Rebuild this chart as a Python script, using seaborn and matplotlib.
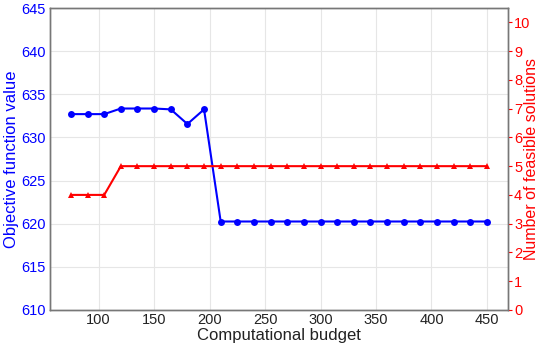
import numpy as np
import pandas as pd
import matplotlib
matplotlib.use("Agg")
import matplotlib.pyplot as plt
import seaborn as sns

budget = [75, 90, 105, 120, 135, 150, 165, 180, 195, 210, 225, 240, 255, 270,
          285, 300, 315, 330, 345, 360, 375, 390, 405, 420, 435, 450]
objective = [632.7, 632.7, 632.7, 633.35, 633.35, 633.35, 633.25, 631.55, 633.25,
             620.25, 620.25, 620.25, 620.25, 620.25, 620.25, 620.25, 620.25, 620.25,
             620.25, 620.25, 620.25, 620.25, 620.25, 620.25, 620.25, 620.25]
feasible = [4, 4, 4, 5, 5, 5, 5, 5, 5, 5, 5, 5, 5, 5, 5, 5, 5, 5, 5, 5, 5, 5, 5, 5, 5, 5]

sns.set_theme(style="whitegrid")
plt.rcParams['font.family'] = ['Liberation Sans', 'DejaVu Sans']

df = pd.DataFrame({"budget": budget, "objective": objective, "feasible": feasible})

fig, ax = plt.subplots(figsize=(5.39, 3.49), dpi=100)
fig.subplots_adjust(left=0.093, right=0.942, top=0.977, bottom=0.112)

sns.lineplot(data=df, x="budget", y="objective", ax=ax, color="blue", marker="o",
             markersize=5, markeredgewidth=0, linewidth=1.5)
ax2 = ax.twinx()
sns.lineplot(data=df, x="budget", y="feasible", ax=ax2, color="red", marker="^",
             markersize=5, markeredgewidth=0, linewidth=1.5)

ax.set_ylim(610, 645)
ax.set_yticks(np.arange(610, 646, 5))
ax.set_xticks(np.arange(100, 451, 50))
ax2.set_ylim(0, 10.5)
ax2.set_yticks(range(0, 11))
ax2.grid(False)

ax.set_xlabel("Computational budget", fontsize=12, labelpad=1, color="#222222")
ax.set_ylabel("Objective function value", fontsize=12, color="blue", labelpad=2)
ax2.set_ylabel("Number of feasible solutions", fontsize=11.5, color="red", rotation=90,
               va="center", ha="center")
ax2.yaxis.set_label_coords(1.053, 0.5)

ax.tick_params(axis="y", colors="blue", labelsize=10.5, length=0, pad=3)
ax.tick_params(axis="x", labelsize=10.5, length=0, pad=2, colors="#222222")
ax2.tick_params(axis="y", colors="red", labelsize=10.5, length=3, width=0.8, pad=1.5, right=True)

for a in (ax, ax2):
    for s in a.spines.values():
        s.set_color("#777777")
        s.set_linewidth(1.0)
ax.grid(True, color="#e6e6e6", linewidth=0.8)

fig.savefig("out.png", dpi=100)
